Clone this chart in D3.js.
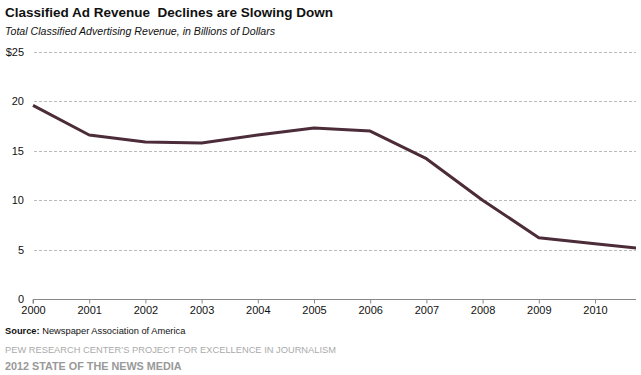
<!DOCTYPE html>
<html>
<head>
<meta charset="utf-8">
<script src="https://cdn.jsdelivr.net/npm/d3@7"></script>
<style>
  body { margin: 0; background: #fff; font-family: "Liberation Sans", Arial, sans-serif; }
  svg text { font-family: "Liberation Sans", Arial, sans-serif; }
</style>
</head>
<body>
<div id="chart"></div>
<script>
// Chart size
const width = 641;
const height = 375;

// Data (billions of dollars)
const years = [2000, 2001, 2002, 2003, 2004, 2005, 2006, 2007, 2008, 2009, 2010, 2011];
const revenue = [19.6, 16.6, 15.9, 15.8, 16.6, 17.3, 17.0, 14.2, 10.0, 6.2, 5.6, 5.0];
const yTicks = [0, 5, 10, 15, 20, 25];
const xTicks = [2000, 2001, 2002, 2003, 2004, 2005, 2006, 2007, 2008, 2009, 2010];

const data = years.map((y, i) => ({ year: y, value: revenue[i] }));

const plotLeft = 33, plotRight = 636, plotTop = 52, plotBottom = 299;

// x domain ends part way into 2010-2011, as in the original
const x = d3.scaleLinear()
    .domain([2000, 2000 + (plotRight - plotLeft) / 56.2])
    .range([plotLeft, plotRight]);

const y = d3.scaleLinear()
    .domain([0, 25])
    .range([plotBottom, plotTop]);

const svg = d3.select("#chart")
    .append("svg")
    .attr("width", width)
    .attr("height", height);

// Title + subtitle
svg.append("text")
    .attr("x", 5).attr("y", 17)
    .style("font-size", "13.5px")
    .style("font-weight", "bold")
    .style("white-space", "pre")
    .style("fill", "#111")
    .text("Classified Ad Revenue  Declines are Slowing Down");

svg.append("text")
    .attr("x", 5).attr("y", 35)
    .style("font-size", "10.6px")
    .style("font-style", "italic")
    .style("fill", "#111")
    .text("Total Classified Advertising Revenue, in Billions of Dollars");

// Horizontal gridlines
svg.append("g")
    .selectAll("line")
    .data(yTicks.filter(d => d > 0))
    .join("line")
    .attr("x1", plotLeft + 1)
    .attr("x2", plotRight)
    .attr("y1", d => Math.round(y(d)) + 0.5)
    .attr("y2", d => Math.round(y(d)) + 0.5)
    .attr("stroke", "#bbb")
    .attr("stroke-dasharray", "3,2");

// y labels
svg.append("g")
    .selectAll("text")
    .data(yTicks)
    .join("text")
    .attr("x", 24)
    .attr("y", d => y(d) + 4)
    .attr("text-anchor", "end")
    .style("font-size", "11px")
    .style("fill", "#111")
    .text(d => d === 25 ? "$25" : d);

// x axis
const xAxis = d3.axisBottom(x)
    .tickValues(xTicks)
    .tickFormat(d3.format("d"))
    .tickSize(4)
    .tickPadding(3);

const gx = svg.append("g")
    .attr("transform", `translate(0,${plotBottom + 0.5})`)
    .call(xAxis);
gx.select(".domain").attr("stroke", "#888").attr("d", `M${plotLeft},4V0H${plotRight}`);
gx.selectAll(".tick line").attr("stroke", "#888");
gx.selectAll(".tick text")
    .style("font-size", "11px")
    .style("fill", "#111");

// Clip the line to the plot area
svg.append("clipPath")
    .attr("id", "plot-clip")
    .append("rect")
    .attr("x", plotLeft - 2).attr("y", 0)
    .attr("width", plotRight - plotLeft + 2).attr("height", height);

const line = d3.line()
    .x(d => x(d.year))
    .y(d => y(d.value));

svg.append("path")
    .datum(data)
    .attr("clip-path", "url(#plot-clip)")
    .attr("fill", "none")
    .attr("stroke", "#4b2c38")
    .attr("stroke-width", 3)
    .attr("stroke-linejoin", "round")
    .attr("d", line);

// Footer
const src = svg.append("text")
    .attr("x", 5).attr("y", 334)
    .style("font-size", "9.3px")
    .style("fill", "#111");
src.append("tspan").style("font-weight", "bold").text("Source:");
src.append("tspan").text(" Newspaper Association of America");

svg.append("text")
    .attr("x", 5).attr("y", 353)
    .style("font-size", "9.3px")
    .style("fill", "#aaa")
    .text("PEW RESEARCH CENTER\u2019S PROJECT FOR EXCELLENCE IN JOURNALISM");

svg.append("text")
    .attr("x", 5).attr("y", 370)
    .style("font-size", "10.8px")
    .style("font-weight", "bold")
    .style("fill", "#999")
    .text("2012 STATE OF THE NEWS MEDIA");
</script>
</body>
</html>
